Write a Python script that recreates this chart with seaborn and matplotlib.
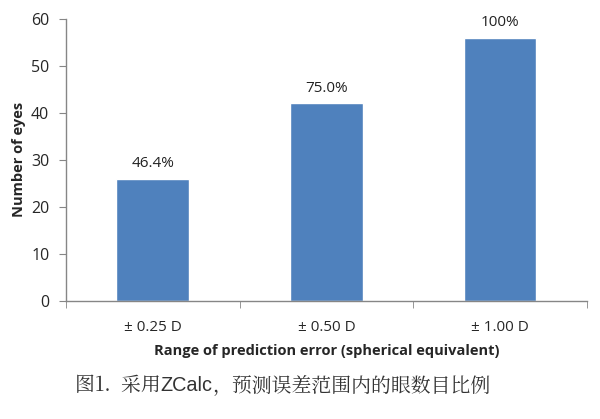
import pandas as pd
import seaborn as sns
import matplotlib.pyplot as plt
from matplotlib.ticker import FixedLocator
from matplotlib.transforms import offset_copy

# Input data
categories = ["± 0.25 D", "± 0.50 D", "± 1.00 D"]
eyes = [26, 42, 56]
pct_labels = ["46.4%", "75.0%", "100%"]
y_ticks = [0, 10, 20, 30, 40, 50, 60]
caption_parts = ["图1.  采用", "ZCalc", "，预测误差范围内的眼数目比例"]

df = pd.DataFrame({"Range": categories, "Eyes": eyes})

sns.set_style("white")
plt.rcParams['font.family'] = ['Open Sans', 'Noto Sans CJK SC', 'DejaVu Sans']

fig = plt.figure(figsize=(6, 4.19), dpi=100)
ax = fig.add_axes([0.11, 0.282, 0.868, 0.673])

sns.barplot(x="Range", y="Eyes", data=df, color="#4F81BD", width=0.42,
            saturation=1, ax=ax)

for i, (v, lab) in enumerate(zip(eyes, pct_labels)):
    ax.text(i, v + 1.6, lab, ha="center", va="bottom", fontsize=11, color="#222222")

ax.set_xlim(-0.5, 2.5)
ax.set_ylim(0, 60)
ax.set_yticks(y_ticks)
ax.xaxis.set_minor_locator(FixedLocator([-0.5, 0.5, 1.5, 2.5]))
ax.tick_params(axis="x", which="major", length=0, labelsize=11, pad=14)
ax.tick_params(axis="x", which="minor", length=5, color="#868686", direction="out")
ax.tick_params(axis="y", length=5, color="#868686", direction="out", labelsize=11.5, pad=7)
ax.tick_params(bottom=True, left=True, which="both")

for s in ["top", "right"]:
    ax.spines[s].set_visible(False)
for s in ["left", "bottom"]:
    ax.spines[s].set_color("#868686")
    ax.spines[s].set_linewidth(1)

ax.set_xlabel("Range of prediction error (spherical equivalent)", fontsize=10.5,
              fontweight="bold", labelpad=6)
ax.set_ylabel("Number of eyes", fontsize=10.5, fontweight="bold", labelpad=4)

# caption: serif CJK with the sans "ZCalc" in the middle
serif = ['Noto Serif CJK SC', 'Noto Sans CJK SC', 'DejaVu Sans']
sans = ['Liberation Sans', 'DejaVu Sans']
fams = [serif, sans, serif]
renderer = fig.canvas.get_renderer()
trans = fig.transFigure
for part, fam in zip(caption_parts, fams):
    t = fig.text(0.125, 0.081, part, fontsize=14.3, family=fam, color="#333333",
                 va="center", transform=trans)
    w = t.get_window_extent(renderer).width
    trans = offset_copy(trans, fig=fig, x=w, units="dots")

fig.savefig("out.png", dpi=100)
